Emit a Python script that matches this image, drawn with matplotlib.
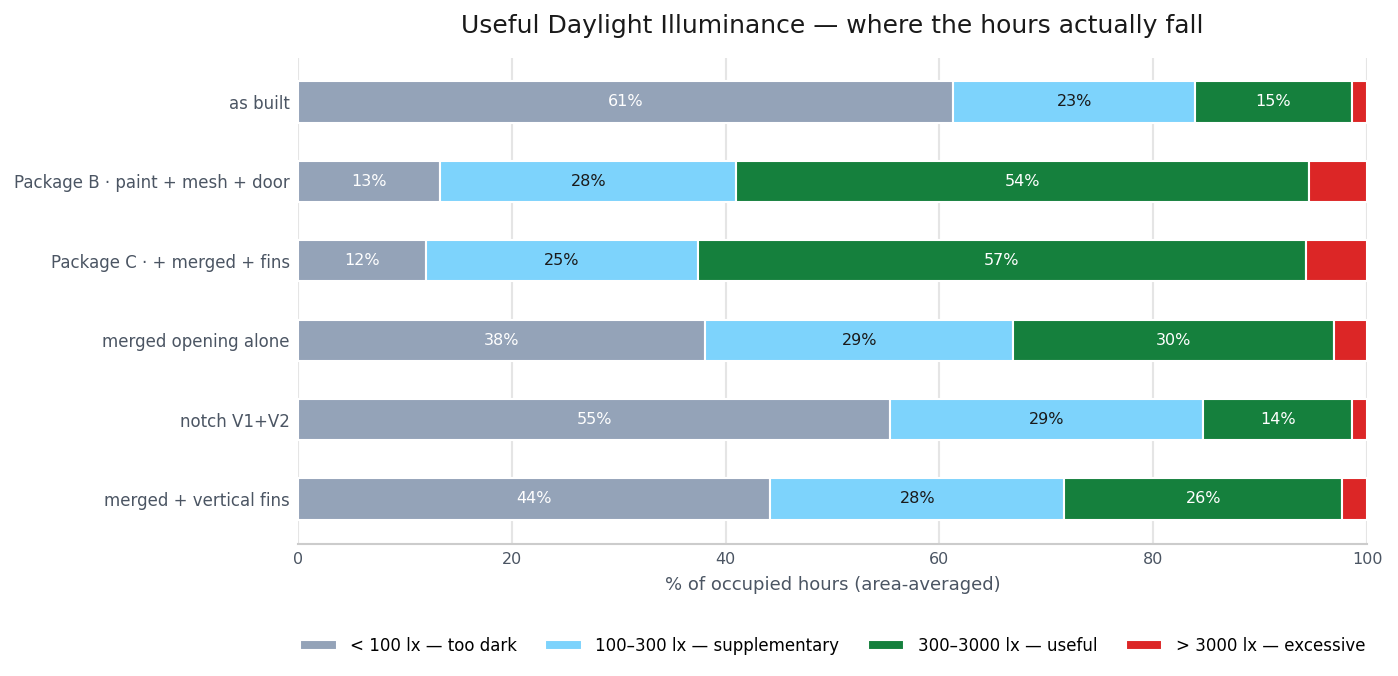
import matplotlib
matplotlib.use("Agg")
import matplotlib.pyplot as plt
import numpy as np

categories = ["as built", "Package B · paint + mesh + door", "Package C · + merged + fins",
              "merged opening alone", "notch V1+V2", "merged + vertical fins"]
too_dark = [61.3, 13.3, 12.0, 38.1, 55.4, 44.2]
supplementary = [22.6, 27.7, 25.4, 28.8, 29.3, 27.5]
useful = [14.7, 53.6, 56.9, 30.0, 13.9, 26.0]
excessive = [1.4, 5.4, 5.7, 3.1, 1.4, 2.3]

series = [
    ("< 100 lx — too dark", too_dark, "#94a3b8", "white"),
    ("100–300 lx — supplementary", supplementary, "#7dd3fc", "#1a1a1a"),
    ("300–3000 lx — useful", useful, "#15803d", "white"),
    ("> 3000 lx — excessive", excessive, "#dc2626", "white"),
]

plt.rcParams['font.family'] = ['DejaVu Sans']
fig = plt.figure(figsize=(13.98, 6.76), dpi=100)
ax = fig.add_axes([298/1398, 1-544/676, (1367-298)/1398, (544-58)/676])

y = np.arange(len(categories))
left = np.zeros(len(categories))
for name, vals, color, tcol in series:
    vals = np.array(vals)
    ax.barh(y, vals, left=left, height=0.52, color=color, edgecolor="white",
            linewidth=1.5, label=name, zorder=3)
    for yi, (l, v) in enumerate(zip(left, vals)):
        if v >= 8:
            ax.text(l + v/2, yi, f"{v:.0f}%", ha="center", va="center",
                    color=tcol, fontsize=11.5, zorder=4)
    left += vals

ax.set_yticks(y)
ax.set_yticklabels(categories)
ax.set_ylim(len(categories) - 1 + 0.567, -0.554)
ax.set_xlim(0, 100)
ax.set_xticks([0, 20, 40, 60, 80, 100])
ax.grid(axis="x", color="#e5e5e5", linewidth=1.5, zorder=0)
ax.set_axisbelow(True)
for s in ["top", "right", "left"]:
    ax.spines[s].set_visible(False)
ax.spines["bottom"].set_color("#cccccc")
ax.spines["bottom"].set_linewidth(1.5)
ax.tick_params(axis="y", length=0, labelsize=12, labelcolor="#4b5563", pad=6)
ax.tick_params(axis="x", length=0, labelsize=11.5, labelcolor="#4b5563", pad=6)
ax.set_xlabel("% of occupied hours (area-averaged)", fontsize=13, color="#4b5563", labelpad=6)
ax.set_title("Useful Daylight Illuminance — where the hours actually fall", fontsize=18,
             color="#1a1a1a", pad=18)

ax.legend(loc="upper center", bbox_to_anchor=(0.5, -0.16), ncol=4, frameon=False,
          fontsize=12, handlelength=2.2, handleheight=0.5, columnspacing=1.7)

fig.savefig("out.png", dpi=100, facecolor="white")
